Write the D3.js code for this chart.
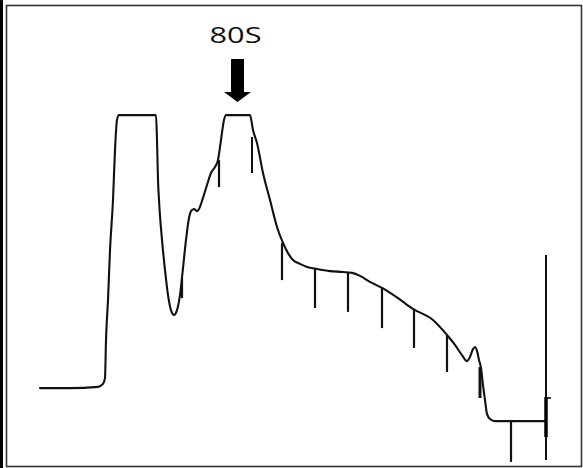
<!DOCTYPE html>
<html>
<head>
<meta charset="utf-8">
<script src="https://cdn.jsdelivr.net/npm/d3@7"></script>
<style>
  html, body { margin: 0; padding: 0; background: #fff; }
  svg { display: block; }
</style>
</head>
<body>
<svg id="chart" width="583" height="468"></svg>
<script>
// Polysome profile: gradient position (top -> bottom) vs absorbance (arbitrary units)
const position = [0, 6, 11.6, 12.6, 13, 13.2, 13.6, 14, 14.6, 15, 15.4, 15.8, 23.2, 23.4, 23.6, 23.8,
  24.4, 25, 25.6, 26.2, 26.8, 27.4, 28, 28.6, 29.2, 29.8, 30.2, 30.8, 31.4, 31.8, 32.6, 33.4, 34.2,
  35, 35.6, 36.2, 36.8, 37.2, 42, 42.6, 43.4, 44.6, 46, 47.4, 48.6, 49.6, 50.6, 52, 53.4, 55.4, 58,
  60.6, 62.4, 64, 66, 68.4, 71.6, 74.6, 78.6, 81.4, 83, 84.4, 85.4, 86, 86.6, 87, 87.4, 87.8, 88.2,
  88.6, 89, 89.4, 90, 91, 101.2];
const absorbance = [17.3, 17.3, 17.7, 18.7, 20.7, 33.3, 46.7, 63.3, 80, 96.7, 106.7, 108.3, 108.3, 100,
  86.7, 80, 66.7, 56.7, 48.3, 43.3, 41.7, 43.3, 48.3, 57.3, 66.7, 74, 76.3, 77, 76.3, 77, 80.7, 85,
  89, 91, 93.3, 100, 106.7, 108.3, 108.3, 103.3, 99, 89, 80, 71, 65.7, 62.3, 60, 58.7, 57.7, 57,
  56.3, 56, 55.7, 54.7, 52.7, 50.7, 47.3, 43.7, 40, 35, 31.7, 28.3, 26.3, 27.7, 30.3, 31, 29.7,
  26.7, 24, 18.3, 13.3, 8.7, 7, 6.3, 6.3];

// Fraction collector event marks: position, top and bottom of each pen stroke
const markPosition = [28.4, 35.8, 42.4, 48.4, 55, 61.6, 68.4, 74.8, 81.4, 88, 94.2, 101.2];
const markTop      = [54, 93.3, 101, 65.7, 57, 55.7, 50.7, 43.7, 35, 24.3, 6.3, 61.7];
const markBottom   = [47.3, 84.3, 89, 53.3, 44, 42.7, 37.3, 30.7, 22.7, 14, -7.3, -6.7];
const markWidth    = [2.2, 2.2, 2, 2.2, 2.2, 2.2, 2.2, 2.2, 2.2, 3, 2.2, 2];

// Peak annotation
const peakLabel = "80S";
const peakPosition = 39.5;
const peakArrowTop = 127;   // absorbance units above the flat top
const peakArrowTip = 112.7;

const svg = d3.select("#chart");
const W = 583, H = 468;

const x = d3.scaleLinear().domain([0, 108]).range([40, 580]);
const y = d3.scaleLinear().domain([-10, 110]).range([470, 110]);

// Frame
svg.append("rect").attr("x", 0).attr("y", 0).attr("width", 3).attr("height", H).attr("fill", "#000");
svg.append("rect")
  .attr("x", 6.5).attr("y", 5.5).attr("width", 575).attr("height", 461)
  .attr("fill", "none").attr("stroke", "#333").attr("stroke-width", 1.6);

// Trace
const pts = position.map((p, i) => [p, absorbance[i]]);
svg.append("path")
  .datum(pts)
  .attr("fill", "none")
  .attr("stroke", "#111")
  .attr("stroke-width", 2.1)
  .attr("stroke-linejoin", "round")
  .attr("stroke-linecap", "round")
  .attr("d", d3.line().curve(d3.curveMonotoneX).x(d => x(d[0])).y(d => y(d[1])));

// Fraction marks
svg.append("g").selectAll("line")
  .data(markPosition.map((p, i) => ({ p, t: markTop[i], b: markBottom[i], w: markWidth[i] })))
  .join("line")
  .attr("x1", d => x(d.p)).attr("x2", d => x(d.p))
  .attr("y1", d => y(d.t)).attr("y2", d => y(d.b))
  .attr("stroke", "#111")
  .attr("stroke-width", d => d.w);

// Heavier pen stroke on the final mark, with its small side tick
const last = markPosition[markPosition.length - 1];
svg.append("line")
  .attr("x1", x(last)).attr("x2", x(last))
  .attr("y1", y(14.3)).attr("y2", y(1))
  .attr("stroke", "#000").attr("stroke-width", 3.5);
svg.append("line")
  .attr("x1", x(last)).attr("x2", x(last) + 5)
  .attr("y1", y(14)).attr("y2", y(14))
  .attr("stroke", "#000").attr("stroke-width", 1.5);

// 80S label and arrow
const px = x(peakPosition);
svg.append("text")
  .attr("x", px - 2).attr("y", 43)
  .attr("text-anchor", "middle")
  .attr("font-family", "'Open Sans', 'DejaVu Sans', sans-serif")
  .attr("font-size", 22)
  .attr("textLength", 52)
  .attr("lengthAdjust", "spacingAndGlyphs")
  .attr("fill", "#111")
  .text(peakLabel);

const yTop = y(peakArrowTop), yTip = y(peakArrowTip);
const headH = 10;
svg.append("path")
  .attr("fill", "#000")
  .attr("d", [
    "M", px - 6.5, yTop,
    "L", px + 6.5, yTop,
    "L", px + 6.5, yTip - headH,
    "L", px + 13.5, yTip - headH,
    "L", px, yTip,
    "L", px - 13.5, yTip - headH,
    "L", px - 6.5, yTip - headH,
    "Z"].join(" "));
</script>
</body>
</html>
